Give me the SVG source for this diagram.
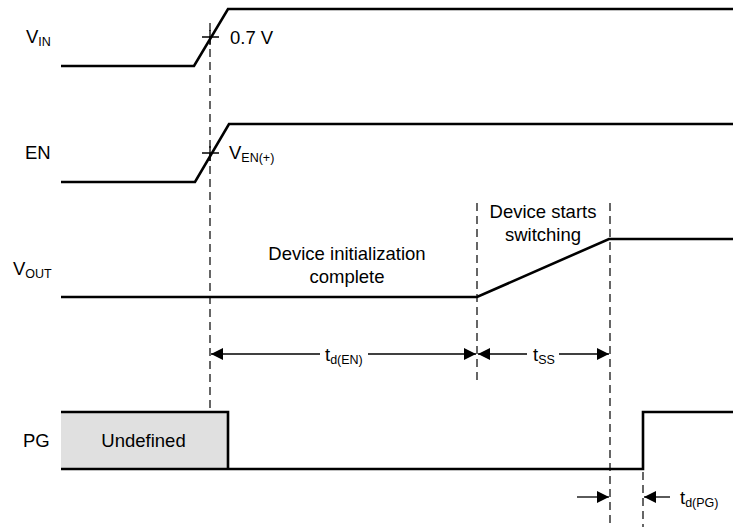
<svg xmlns="http://www.w3.org/2000/svg" width="733" height="527" viewBox="0 0 733 527">
<defs>
<style>
.sig{fill:none;stroke:#000;stroke-width:2.6;stroke-linejoin:miter}
.dash{fill:none;stroke:#000;stroke-width:1.2;stroke-dasharray:8,5}
.thin{fill:none;stroke:#000;stroke-width:1.3}
.t{font-family:"Liberation Sans",Arial,sans-serif;font-size:18.5px;fill:#000}
.s{font-size:12.5px}
</style>
<marker id="ah" viewBox="0 0 10 10" refX="10" refY="5" markerWidth="12" markerHeight="12" markerUnits="userSpaceOnUse" orient="auto-start-reverse">
<path d="M0,0 L10,5 L0,10 z" fill="#000"/>
</marker>
</defs>
<rect width="733" height="527" fill="#fff"/>

<g id="vin">
<path class="sig" d="M61,66 H194 L228,9 H733"/>
<text class="t" x="26" y="43">V<tspan class="s" dy="3">IN</tspan></text>
<path class="thin" d="M202,37 H219 M210,30 V45"/>
<text class="t" x="230" y="44">0.7 V</text>
</g>

<g id="en">
<path class="sig" d="M61,182 H195 L229,124 H733"/>
<text class="t" x="25" y="159">EN</text>
<path class="thin" d="M202,153 H219 M210,146 V161"/>
<text class="t" x="229" y="159">V<tspan class="s" dy="3">EN(+)</tspan></text>
</g>

<g id="vout">
<path class="sig" d="M61,297 H477 L609,239 H733"/>
<text class="t" x="13" y="275">V<tspan class="s" dy="3">OUT</tspan></text>
<text class="t" x="347" y="260" text-anchor="middle">Device initialization</text>
<text class="t" x="347" y="283" text-anchor="middle">complete</text>
<text class="t" x="543" y="218" text-anchor="middle">Device starts</text>
<text class="t" x="543" y="241" text-anchor="middle">switching</text>
</g>

<g id="pg">
<rect x="61" y="412" width="167" height="57" fill="#e0e0e0"/>
<path class="sig" d="M61,412 H228 V469 M61,469 H643 V412 H733"/>
<text class="t" x="23" y="447">PG</text>
<text class="t" x="143.5" y="447" text-anchor="middle">Undefined</text>
</g>

<g id="connectors">
<path class="dash" d="M210,23 V411"/>
<path class="dash" d="M477,203 V384"/>
<path class="dash" d="M610,203 V527"/>
<path class="dash" d="M643,472 V527"/>
<path class="thin" d="M211,354 H320" marker-start="url(#ah)"/>
<path class="thin" d="M368,354 H476" marker-end="url(#ah)"/>
<path class="thin" d="M478,354 H527" marker-start="url(#ah)"/>
<path class="thin" d="M559,354 H609" marker-end="url(#ah)"/>
<path class="thin" d="M577,497 H609" marker-end="url(#ah)"/>
<path class="thin" d="M670,497 H644" marker-end="url(#ah)"/>
</g>

<g id="labels">
<text class="t" x="325" y="361">t<tspan class="s" dy="3">d(EN)</tspan></text>
<text class="t" x="533" y="361">t<tspan class="s" dy="3">SS</tspan></text>
<text class="t" x="680" y="504">t<tspan class="s" dy="3">d(PG)</tspan></text>
</g>
</svg>
